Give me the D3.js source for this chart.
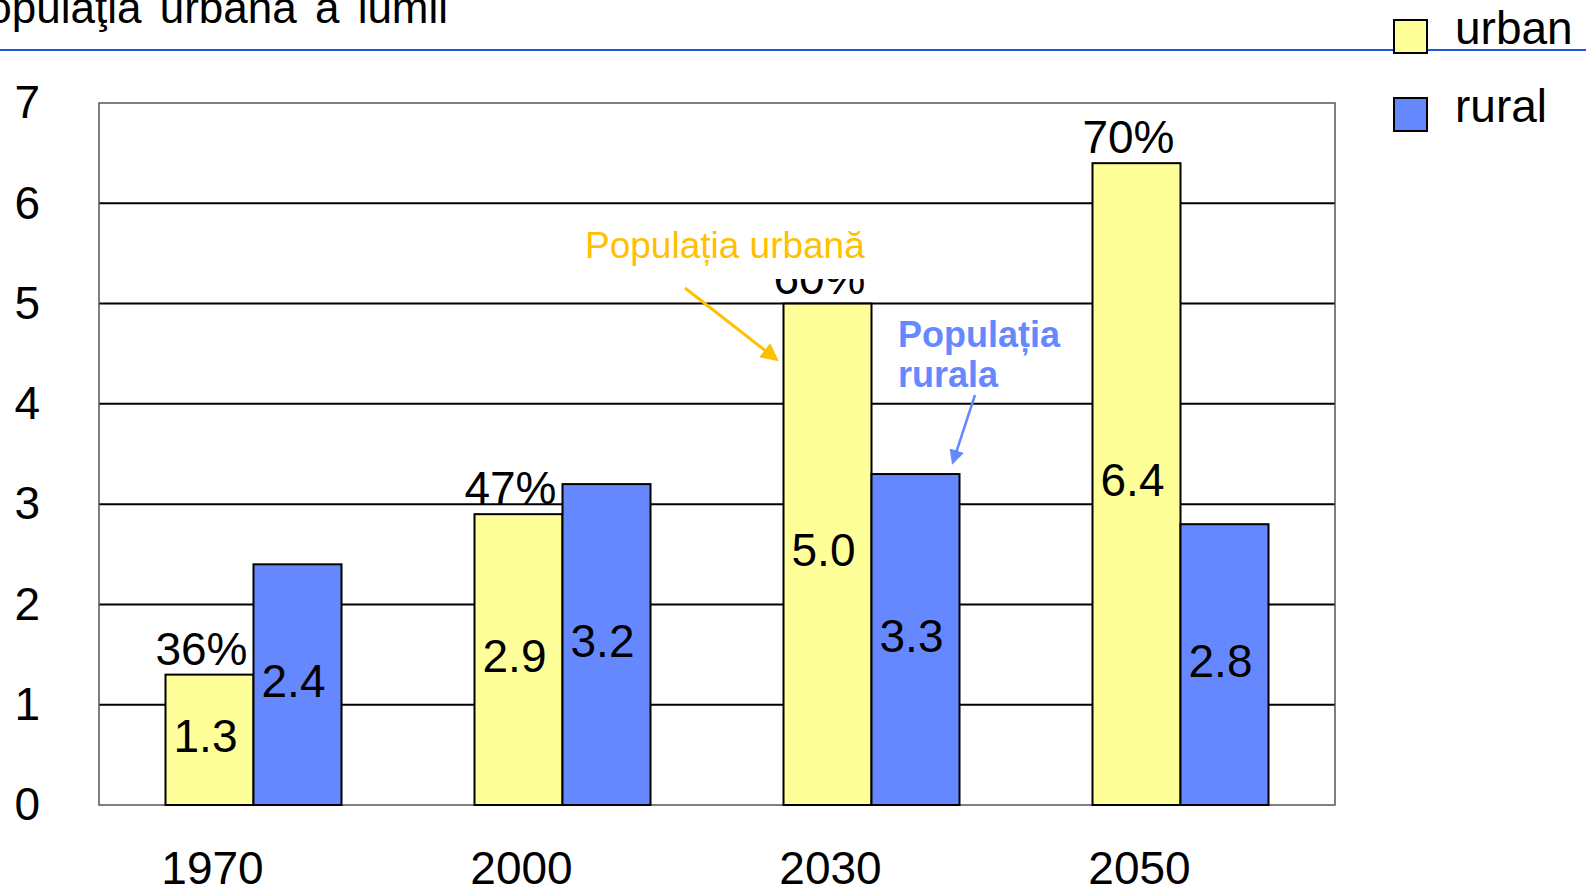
<!DOCTYPE html>
<html>
<head>
<meta charset="utf-8">
<script src="https://cdn.jsdelivr.net/npm/d3@7"></script>
<style>
  body { margin: 0; background: #fff; }
  svg { display: block; font-family: "Liberation Sans", Arial, sans-serif; }
</style>
</head>
<body>
<svg id="chart" width="1586" height="891"></svg>
<script>
// data
const years = ["1970", "2000", "2030", "2050"];
const urban = [1.3, 2.9, 5.0, 6.4];
const rural = [2.4, 3.2, 3.3, 2.8];
const urbanShare = ["36%", "47%", "60%", "70%"];
const yTicks = [0, 1, 2, 3, 4, 5, 6, 7];
const seriesNames = ["urban", "rural"];
const seriesColors = ["#FFFF99", "#6688FF"];

const svg = d3.select("#chart");

// plot area
const plotLeft = 99, plotRight = 1335, plotTop = 103, plotBottom = 805;

const x = d3.scaleBand().domain(years).range([plotLeft, plotRight]).padding(0);
const inner = d3.scaleBand().domain(seriesNames).range([-88, 88]);
const y = d3.scaleLinear().domain([0, 7]).range([plotBottom, plotTop]);

// gridlines
svg.append("g")
  .selectAll("line")
  .data(yTicks.filter(d => d > 0 && d < 7))
  .join("line")
  .attr("x1", plotLeft)
  .attr("x2", plotRight)
  .attr("y1", d => y(d))
  .attr("y2", d => y(d))
  .attr("stroke", "#000")
  .attr("stroke-width", 2);

// plot frame
svg.append("rect")
  .attr("x", plotLeft)
  .attr("y", plotTop)
  .attr("width", plotRight - plotLeft)
  .attr("height", plotBottom - plotTop)
  .attr("fill", "none")
  .attr("stroke", "#555")
  .attr("stroke-width", 1.5);

// bars
const rows = years.map((yr, i) => ({ year: yr, urban: urban[i], rural: rural[i], share: urbanShare[i] }));
const center = d => x(d) + x.bandwidth() / 2;

seriesNames.forEach((s, si) => {
  const g = svg.append("g").attr("fill", seriesColors[si]);
  g.selectAll("rect")
    .data(rows)
    .join("rect")
    .attr("x", d => center(d.year) + inner(s))
    .attr("y", d => y(d[s]))
    .attr("width", inner.bandwidth())
    .attr("height", d => y(0) - y(d[s]))
    .attr("stroke", "#000")
    .attr("stroke-width", 2);

  // value labels in the middle of the bar
  svg.append("g")
    .selectAll("text")
    .data(rows)
    .join("text")
    .attr("x", d => center(d.year) + inner(s) + inner.bandwidth() / 2 - 4)
    .attr("y", d => (y(d[s]) + y(0)) / 2 - 4)
    .attr("dy", "0.35em")
    .attr("text-anchor", "middle")
    .attr("font-size", 46)
    .text(d => d3.format(".1f")(d[s]));
});

// share labels above urban bars
svg.append("g")
  .selectAll("text")
  .data(rows)
  .join("text")
  .attr("x", d => center(d.year) + inner("urban") + inner.bandwidth() / 2 - 8)
  .attr("y", d => y(d.urban) - 10)
  .attr("text-anchor", "middle")
  .attr("font-size", 46)
  .text(d => d.share);

// y axis
const yAxis = svg.append("g")
  .attr("transform", `translate(${plotLeft},0)`)
  .call(d3.axisLeft(y).tickValues(yTicks).tickFormat(d3.format("d")).tickSize(0).tickPadding(59));
yAxis.select(".domain").remove();
yAxis.selectAll("text")
  .attr("font-size", 46)
  .attr("font-family", "Liberation Sans, Arial, sans-serif")
  .attr("fill", "#000")
  .attr("dy", "0.32em");

// x axis
const xAxis = svg.append("g")
  .attr("transform", `translate(-41,${plotBottom})`)
  .call(d3.axisBottom(x).tickSize(0).tickPadding(46));
xAxis.select(".domain").remove();
xAxis.selectAll("text")
  .attr("font-size", 46)
  .attr("font-family", "Liberation Sans, Arial, sans-serif")
  .attr("fill", "#000");

// title (partly off the left edge) and the rule below it
svg.append("text")
  .attr("x", -42)
  .attr("y", 23)
  .attr("font-size", 44)
  .attr("word-spacing", 6)
  .text("Populaţia urbană a lumii");

svg.append("line")
  .attr("x1", 0).attr("x2", 1586)
  .attr("y1", 50).attr("y2", 50)
  .attr("stroke", "#2255DD")
  .attr("stroke-width", 2);

// legend
const legend = svg.append("g")
  .selectAll("g")
  .data(seriesNames)
  .join("g")
  .attr("transform", (d, i) => `translate(1394,${20 + i * 78})`);
legend.append("rect")
  .attr("width", 33)
  .attr("height", 33)
  .attr("fill", (d, i) => seriesColors[i])
  .attr("stroke", "#000")
  .attr("stroke-width", 2);
legend.append("text")
  .attr("x", 61)
  .attr("y", 23.5)
  .attr("font-size", 46)
  .text(d => d);

// annotations
const defs = svg.append("defs");
[["arrowOrange", "#FFC000"], ["arrowBlue", "#6688FF"]].forEach(([id, c]) => {
  defs.append("marker")
    .attr("id", id)
    .attr("viewBox", "0 0 10 10")
    .attr("refX", 8)
    .attr("refY", 5)
    .attr("markerWidth", 6)
    .attr("markerHeight", 6)
    .attr("markerUnits", "strokeWidth")
    .attr("orient", "auto")
    .append("path")
    .attr("d", "M0,0 L10,5 L0,10 Z")
    .attr("fill", c);
});

svg.append("rect")
  .attr("x", 580).attr("y", 222)
  .attr("width", 292).attr("height", 57)
  .attr("fill", "#fff");
svg.append("text")
  .attr("x", 585)
  .attr("y", 258)
  .attr("font-size", 37)
  .attr("fill", "#FFC000")
  .text("Populația urbană");
svg.append("line")
  .attr("x1", 685).attr("y1", 288)
  .attr("x2", 776).attr("y2", 359)
  .attr("stroke", "#FFC000")
  .attr("stroke-width", 3)
  .attr("marker-end", "url(#arrowOrange)");

const rl = svg.append("text")
  .attr("font-size", 36)
  .attr("font-weight", "bold")
  .attr("fill", "#6688FF");
rl.append("tspan").attr("x", 898).attr("y", 347).text("Populația");
rl.append("tspan").attr("x", 898).attr("y", 387).text("rurala");
svg.append("line")
  .attr("x1", 975).attr("y1", 395)
  .attr("x2", 953).attr("y2", 462)
  .attr("stroke", "#6688FF")
  .attr("stroke-width", 2.5)
  .attr("marker-end", "url(#arrowBlue)");
</script>
</body>
</html>
